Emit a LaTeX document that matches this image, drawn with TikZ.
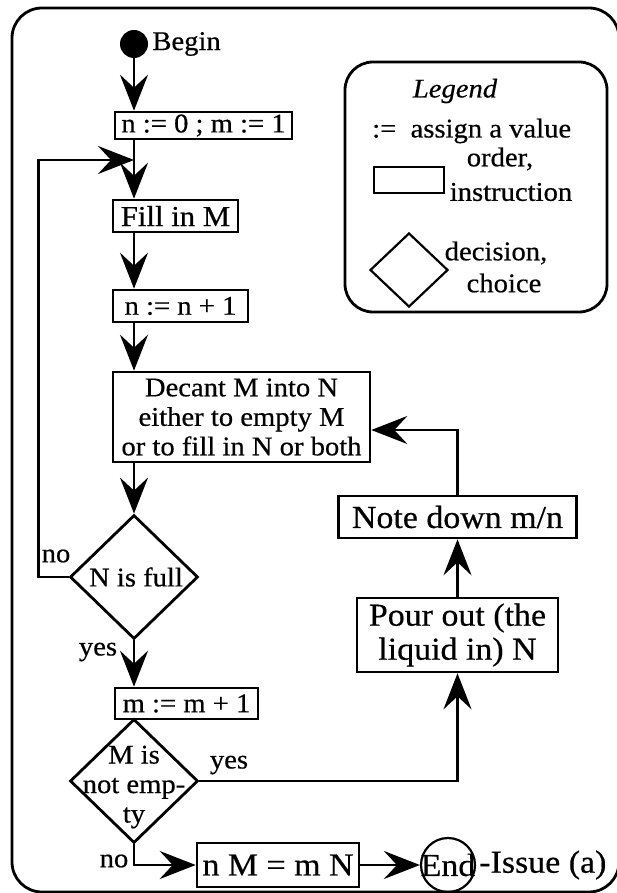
\documentclass[tikz,border=0pt]{standalone}
\usepackage{fontspec}
\setmainfont{Liberation Serif}[FakeStretch=1.06,FakeBold=0.5]
\usetikzlibrary{shapes.geometric,arrows.meta,calc}
\newcommand\flowtext{\fontsize{27}{29.5}\selectfont}
\newcommand\bigtext{\fontsize{32}{34}\selectfont}
\begin{document}
\begin{tikzpicture}[x=1pt,y=-1pt,
  line/.style={line width=2.8pt},
  arr/.style={line, -{Stealth[length=36pt,width=28pt,inset=13pt]}},
  box/.style={draw, line width=2.6pt, inner sep=0pt, align=center, font=\flowtext},
  bigbox/.style={box, font=\bigtext},
  decision/.style={draw, diamond, line width=2.8pt, inner sep=0pt,
                   minimum width=128pt, minimum height=124pt},
  txt/.style={inner sep=0pt, font=\flowtext},
  dot/.style={circle, fill, inner sep=0pt, minimum size=28pt}]
\useasboundingbox (0,0) rectangle (617,893);

% outer frame
\draw[line, rounded corners=30pt] (12,8) rectangle (619,892);

% legend
\draw[line, rounded corners=28pt] (345,62) rectangle (607,312);
\node[txt, font=\flowtext\itshape] (legtitle) at (455,91) {Legend};
\node[txt, anchor=west] (legassign) at (372,131) {:=\ \ assign a value};
\node[draw, line width=2.2pt, minimum width=70pt, minimum height=26pt, inner sep=0pt] (legbox) at (409,180) {};
\node[txt] (legorder) at (500,159) {order,};
\node[txt] (leginstr) at (511,192) {instruction};
\node[draw, diamond, line width=2.2pt, inner sep=0pt, minimum width=78pt, minimum height=74pt] (legdia) at (409,270) {};
\node[txt] (legdec) at (496,253) {decision,};
\node[txt] (legchoice) at (504,283) {choice};

% flow chart nodes
\node[dot] (start) at (134,44) {};
\node[txt, anchor=west] (begintxt) at ([xshift=4pt]start.east) {Begin};
\node[box, minimum width=177pt, minimum height=27pt] (init) at (203.5,125.5) {n := 0 ; m := 1};
\node[box, minimum width=125pt, minimum height=32pt, font=\fontsize{29}{30}\selectfont] (fill) at (175.5,216) {Fill in M};
\node[box, minimum width=135pt, minimum height=32pt] (incn) at (180.5,306) {n := n + 1};
\node[box, minimum width=257pt, minimum height=90pt] (decant) at (241.5,417)
  {Decant M into N\\either to empty M\\or to fill in N or both};
\node[decision] (full) at (134,577) {};
\node[txt] (fulltxt) at (136,577) {N is full};
\node[box, minimum width=143pt, minimum height=31pt] (incm) at (186.5,703.5) {m := m + 1};
\node[decision] (empty) at (134,781) {};
\node[txt, align=center] (emptytxt) at ([yshift=-6pt]empty.center) {M is\\not emp-\\ty};
\node[bigbox, minimum width=162pt, minimum height=44pt] (result) at (278,865) {n M = m N};
\node[circle, draw, line width=2.2pt, inner sep=0pt, minimum size=54pt,
      label={[font=\bigtext]center:End}] (endc) at (448,865) {};
\node[txt, font=\bigtext, anchor=west] (issue) at ([xshift=3pt]endc.east) {-Issue (a)};
\node[bigbox, minimum width=201pt, minimum height=74pt] (pour) at (457.5,635) {Pour out (the\\liquid in) N};
\node[bigbox, minimum width=238pt, minimum height=42pt] (note) at (457.5,517) {Note down m/n};
\coordinate (merge) at (134,160);

% branch labels
\node[txt] (nofull) at (56,556) {no};
\node[txt] (yesfull) at (98,652) {yes};
\node[txt] (yesempty) at (229,765) {yes};
\node[txt] (noempty) at (114,861) {no};

% connectors
\draw[arr] (start) -- (init.north -| start);
\draw[arr] (init.south -| start) -- (fill.north -| start);
\draw[arr] (full.west) -- ++(-30,0) |- (merge);
\draw[arr] (fill.south -| start) -- (incn.north -| start);
\draw[arr] (incn.south -| start) -- (decant.north -| start);
\draw[arr] (decant.south -| start) -- (full.north);
\draw[arr] (full.south) -- (incm.north -| start);
\draw[arr] (empty.east) -| (pour.south);
\draw[arr] (pour.north) -- (note.south);
\draw[arr] (note.north) |- ([yshift=-13pt]decant.east);
\draw[arr] (empty.south) |- (result.west);
\draw[arr] (result.east) -- (endc.west);
\end{tikzpicture}
\end{document}
